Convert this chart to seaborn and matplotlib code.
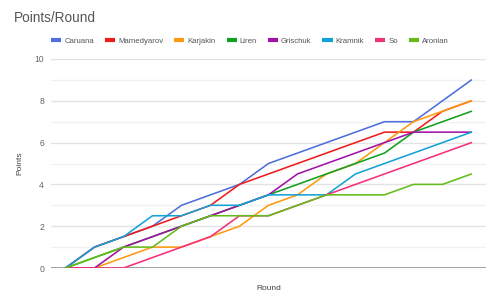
import matplotlib
matplotlib.use("Agg")
import matplotlib.pyplot as plt
import seaborn as sns
import pandas as pd
from matplotlib.lines import Line2D

rounds = list(range(15))
players = ["Caruana", "Mamedyarov", "Karjakin", "Liren", "Grischuk", "Kramnik", "So", "Aronian"]
caruana    = [0, 1, 1.5, 2, 3, 3.5, 4, 5, 5.5, 6, 6.5, 7, 7, 8, 9]
mamedyarov = [0, 1, 1.5, 2, 2.5, 3, 4, 4.5, 5, 5.5, 6, 6.5, 6.5, 7.5, 8]
karjakin   = [0, 0, 0.5, 1, 1, 1.5, 2, 3, 3.5, 4.5, 5, 6, 7, 7.5, 8]
liren      = [0, 0.5, 1, 1.5, 2, 2.5, 3, 3.5, 4, 4.5, 5, 5.5, 6.5, 7, 7.5]
grischuk   = [0, 0, 1, 1.5, 2, 2.5, 3, 3.5, 4.5, 5, 5.5, 6, 6.5, 6.5, 6.5]
kramnik    = [0, 1, 1.5, 2.5, 2.5, 3, 3, 3.5, 3.5, 3.5, 4.5, 5, 5.5, 6, 6.5]
so         = [0, 0, 0, 0.5, 1, 1.5, 2.5, 2.5, 3, 3.5, 4, 4.5, 5, 5.5, 6]
aronian    = [0, 0.5, 1, 1, 2, 2.5, 2.5, 2.5, 3, 3.5, 3.5, 3.5, 4, 4, 4.5]
series = [caruana, mamedyarov, karjakin, liren, grischuk, kramnik, so, aronian]
colors = ["#4f6fdc", "#f01c1c", "#ff9a10", "#12a01e", "#a312a8", "#14a3d6", "#f5307a", "#62bd1a"]

rows = []
for name, vals in zip(players, series):
    for r, v in zip(rounds, vals):
        rows.append({"Round": r, "Points": v, "Player": name})
df = pd.DataFrame(rows)

sns.set_style("white")
plt.rcParams['font.family'] = ['Liberation Sans', 'DejaVu Sans']

fig = plt.figure(figsize=(5.0, 3.06), dpi=100)
ax = fig.add_axes([51/500, 38/306, 435/500, 209/306])

for v in range(1, 11):
    ax.axhline(v, color="#e3e3e3" if v % 2 == 0 else "#f1f1f1", lw=1.0, zorder=0)
ax.axhline(0, color="#a0a0a0", lw=1.4, zorder=1)

sns.lineplot(data=df, x="Round", y="Points", hue="Player", hue_order=players,
             palette=colors, linewidth=1.15, ax=ax, legend=False, zorder=3)

ax.set_xlim(-0.5, 14.5)
ax.set_ylim(0, 10)
ax.set_yticks([0, 2, 4, 6, 8, 10])
ax.set_xticks([])
ax.tick_params(axis="y", length=0, pad=5, labelsize=6.2, labelcolor="#666666")
for s in ax.spines.values():
    s.set_visible(False)
ax.set_ylabel("Points", fontsize=6.0, color="#444444", labelpad=8)
ax.set_xlabel("Round", fontsize=6.0, color="#444444", labelpad=12)

fig.text(14/500, 1 - 18/306, "Points/Round", fontsize=9.8, color="#555555", va="center", ha="left")

handles = [Line2D([0], [0], color=c, lw=3, solid_capstyle="butt") for c in colors]
fig.legend(handles, players, loc="center", bbox_to_anchor=(0.5, 1 - 41/306), ncol=8,
           frameon=False, fontsize=5.6, handlelength=1.3, handletextpad=0.4,
           columnspacing=1.4, labelcolor="#555555")

fig.savefig("out.png", dpi=100)
